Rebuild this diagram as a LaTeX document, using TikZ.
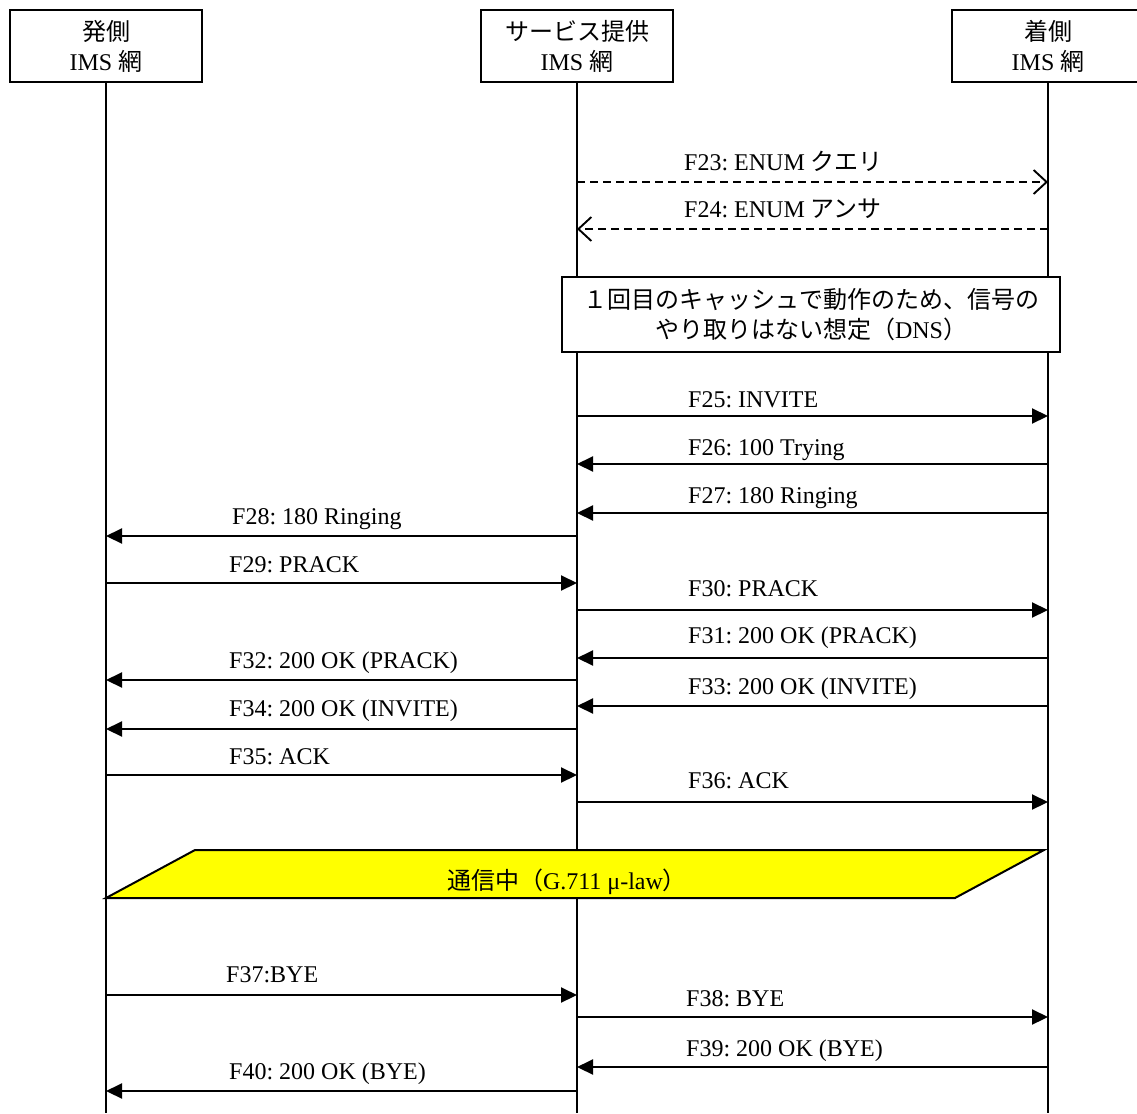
\documentclass[tikz,border=0pt]{standalone}
\usepackage{fontspec}
\setmainfont{Liberation Serif}
\newfontfamily\cjk{Noto Sans CJK JP}
\usetikzlibrary{arrows.meta}
\definecolor{talkyellow}{RGB}{255,255,0}
\frenchspacing
\begin{document}
\begin{tikzpicture}[x=1pt,y=-1pt,
  every node/.style={font=\fontsize{24}{30}\selectfont\frenchspacing},
  hdr/.style={draw,line width=2pt,fill=white,minimum width=192pt,minimum height=72pt,align=center,inner sep=0pt},
  life/.style={line width=1.7pt},
  msg/.style={line width=2.1pt,-{Triangle[length=16pt,width=15pt]}},
  dmsg/.style={line width=1.9pt,dash pattern=on 8pt off 5pt,-{Straight Barb[length=13pt,width=24pt,line width=1.9pt]}},
  lbl/.style={anchor=base west,inner sep=0pt},
  note/.style={draw,line width=2pt,fill=white,align=center,inner sep=0pt,minimum width=498pt,minimum height=75pt},
  talkbox/.style={draw,line width=2pt,fill=talkyellow}
]
\useasboundingbox (0,0) rectangle (1137,1113);
\clip (0,0) rectangle (1137,1113);
\fill[white] (0,0) rectangle (1137,1113);

% headers
\node[hdr] (hA) at (106,46) {{\cjk 発側}\\IMS {\cjk 網}};
\node[hdr] (hB) at (577,46) {{\cjk サービス提供}\\IMS {\cjk 網}};
\node[hdr] (hC) at (1048,46) {{\cjk 着側}\\IMS {\cjk 網}};

% lifelines
\coordinate (eA) at (hA.south |- 0,1113);
\coordinate (eB) at (hB.south |- 0,1113);
\coordinate (eC) at (hC.south |- 0,1113);
\draw[life] (hA.south) -- (eA);
\draw[life] (hB.south) -- (eB);
\draw[life] (hC.south) -- (eC);

% ENUM
\draw[dmsg] (hB |- 0,182) -- (hC |- 0,182);
\node[lbl] (l23) at (684,170) {F23: ENUM {\cjk クエリ}};
\draw[dmsg] (hC |- 0,229) -- (hB |- 0,229);
\node[lbl] (l24) at (684,217) {F24: ENUM {\cjk アンサ}};

% note
\node[note] (nt) at (811,314.5) {{\cjk １回目のキャッシュで動作のため、信号の}\\{\cjk やり取りはない想定（}DNS{\cjk ）}};

% messages
\draw[msg] (hB |- 0,416) -- (hC |- 0,416);
\node[lbl] (l25) at (688,407) {F25: INVITE};
\draw[msg] (hC |- 0,464) -- (hB |- 0,464);
\node[lbl] (l26) at (688,455) {F26: 100 Trying};
\draw[msg] (hC |- 0,513) -- (hB |- 0,513);
\node[lbl] (l27) at (688,503) {F27: 180 Ringing};
\draw[msg] (hB |- 0,536) -- (hA |- 0,536);
\node[lbl] (l28) at (232,524) {F28: 180 Ringing};
\draw[msg] (hA |- 0,583) -- (hB |- 0,583);
\node[lbl] (l29) at (229,572) {F29: PRACK};
\draw[msg] (hB |- 0,610) -- (hC |- 0,610);
\node[lbl] (l30) at (688,596) {F30: PRACK};
\draw[msg] (hC |- 0,658) -- (hB |- 0,658);
\node[lbl] (l31) at (688,643) {F31: 200 OK (PRACK)};
\draw[msg] (hB |- 0,680) -- (hA |- 0,680);
\node[lbl] (l32) at (229,668) {F32: 200 OK (PRACK)};
\draw[msg] (hC |- 0,706) -- (hB |- 0,706);
\node[lbl] (l33) at (688,694) {F33: 200 OK (INVITE)};
\draw[msg] (hB |- 0,729) -- (hA |- 0,729);
\node[lbl] (l34) at (229,716) {F34: 200 OK (INVITE)};
\draw[msg] (hA |- 0,775) -- (hB |- 0,775);
\node[lbl] (l35) at (229,764) {F35: ACK};
\draw[msg] (hB |- 0,802) -- (hC |- 0,802);
\node[lbl] (l36) at (688,788) {F36: ACK};

% talking
\draw[talkbox] (195,850) -- (1044,850) -- (955,898) -- (106,898) -- cycle;
\node (talk) at (567,882) {{\cjk 通信中（}G.711 μ-law{\cjk ）}};

% release
\draw[msg] (hA |- 0,995) -- (hB |- 0,995);
\node[lbl] (l37) at (226,982) {F37:BYE};
\draw[msg] (hB |- 0,1017) -- (hC |- 0,1017);
\node[lbl] (l38) at (686,1006) {F38: BYE};
\draw[msg] (hC |- 0,1067) -- (hB |- 0,1067);
\node[lbl] (l39) at (686,1056) {F39: 200 OK (BYE)};
\draw[msg] (hB |- 0,1091) -- (hA |- 0,1091);
\node[lbl] (l40) at (229,1079) {F40: 200 OK (BYE)};
\end{tikzpicture}
\end{document}
